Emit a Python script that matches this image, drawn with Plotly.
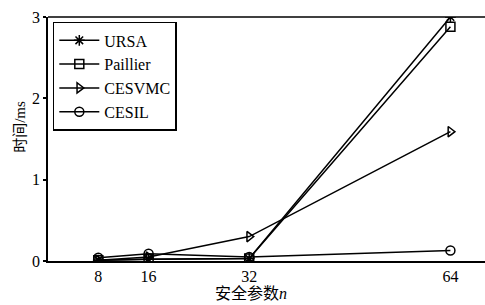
import plotly.graph_objects as go

n_vals = [8, 16, 32, 64]
ursa = [0.01, 0.02, 0.03, 3.0]
paillier = [0.01, 0.02, 0.03, 2.88]
cesvmc = [0.01, 0.05, 0.30, 1.59]
cesil = [0.04, 0.09, 0.05, 0.13]

series = [
    ("URSA", ursa, "asterisk-open"),
    ("Paillier", paillier, "square-open"),
    ("CESVMC", cesvmc, "triangle-right-open"),
    ("CESIL", cesil, "circle-open"),
]

font_family = "Liberation Serif, Times New Roman, Noto Sans CJK SC, serif"

fig = go.Figure()
for name, vals, sym in series:
    fig.add_trace(go.Scatter(
        x=n_vals, y=vals, name=name, mode="lines+markers",
        line=dict(color="black", width=1.5),
        marker=dict(symbol=sym, size=9, color="black",
                    line=dict(color="black", width=1.5)),
    ))

fig.update_layout(
    width=485, height=305,
    margin=dict(l=48, r=0, t=17, b=44, autoexpand=False),
    paper_bgcolor="white", plot_bgcolor="white",
    font=dict(family=font_family, size=16, color="black"),
    showlegend=True,
    legend=dict(
        x=0.011, y=0.98, xanchor="left", yanchor="top",
        bgcolor="white", bordercolor="black", borderwidth=1.5,
        font=dict(size=16), tracegroupgap=0, itemwidth=40,
        traceorder="normal",
    ),
    xaxis=dict(
        range=[0, 69.5], tickvals=n_vals, ticktext=[str(v) for v in n_vals],
        showgrid=False, zeroline=False, showline=True, linecolor="black",
        linewidth=1.5, ticks="", tickfont=dict(size=16), automargin=False,
    ),
    yaxis=dict(
        range=[0, 3], tickvals=[0, 1, 2, 3],
        showgrid=False, zeroline=False, showline=True, linecolor="black",
        linewidth=1.5, ticks="outside", ticklen=3, tickwidth=1.5,
        tickcolor="black", mirror=False, tickfont=dict(size=16), automargin=False,
    ),
    shapes=[dict(type="line", xref="paper", yref="paper", x0=0, x1=1, y0=1, y1=1,
                 line=dict(color="black", width=1.5))],
    annotations=[
        dict(text="时间/ms", xref="paper", yref="paper", x=-0.064, y=0.55,
             textangle=-90, showarrow=False, font=dict(size=15),
             xanchor="center", yanchor="middle"),
        dict(text="安全参数<i>n</i>", xref="paper", yref="paper", x=0.465, y=-0.178,
             showarrow=False, font=dict(size=16), xanchor="center", yanchor="bottom"),
    ],
)

fig.write_html("out.html", config={"displayModeBar": False},
               post_script="document.body.style.margin='0';document.body.style.padding='0';")
